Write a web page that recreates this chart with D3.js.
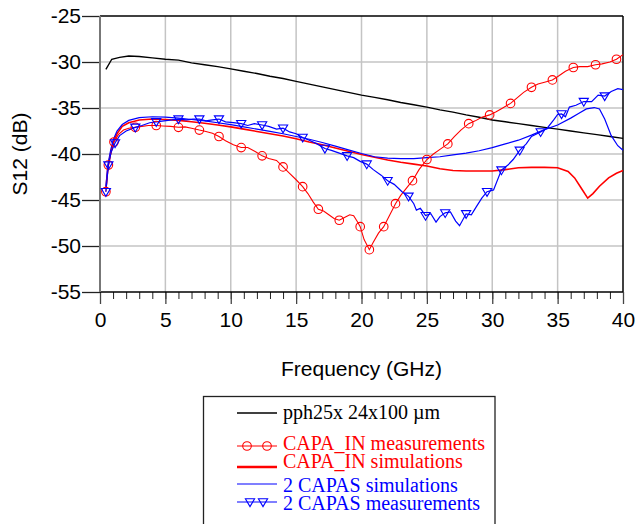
<!DOCTYPE html>
<html><head><meta charset="utf-8">
<script src="https://cdn.jsdelivr.net/npm/d3@7"></script>
<style>body{margin:0;background:#fff}svg{display:block}</style>
</head><body><svg id="c" width="635" height="524"></svg>
<script>
const xTicks = [0,5,10,15,20,25,30,35,40];
const yTicks = [-25,-30,-35,-40,-45,-50,-55];
const legendLabels = ["pph25x 24x100 \u00b5m","CAPA_IN measurements","CAPA_IN simulations","2 CAPAS simulations","2 CAPAS measurements"];

const blackSim = [[0.45,-30.8],[0.9,-29.7],[1.5,-29.5],[2.2,-29.35],[3,-29.4],[4,-29.55],[5,-29.7],[6,-29.8],[7,-30.1],[8,-30.3],[9,-30.5],[10,-30.75],[11,-31.0],[12,-31.25],[13,-31.55],[14,-31.8],[15,-32.1],[16,-32.4],[17,-32.7],[18,-33.0],[19,-33.3],[20,-33.6],[21,-33.85],[22,-34.1],[23,-34.4],[24,-34.65],[25,-34.9],[26,-35.2],[27,-35.45],[28,-35.75],[29,-36.0],[30,-36.3],[31,-36.5],[32,-36.7],[33,-36.9],[34,-37.1],[35,-37.3],[36,-37.5],[37,-37.7],[38,-37.9],[39,-38.1],[40,-38.3]];

const redSim = [[0.45,-43.8],[0.6,-41.5],[0.8,-40.0],[1.0,-38.8],[1.3,-37.8],[1.7,-37.0],[2.2,-36.6],[3,-36.3],[4,-36.2],[5,-36.25],[6,-36.35],[7,-36.5],[8,-36.65],[9,-36.85],[10,-37.05],[11,-37.3],[12,-37.55],[13,-37.8],[14,-38.05],[15,-38.35],[16,-38.7],[17,-39.0],[18,-39.35],[19,-39.7],[20,-40.05],[21,-40.35],[22,-40.65],[23,-40.9],[24,-41.1],[25,-41.3],[26,-41.6],[27,-41.8],[28,-41.85],[29,-41.85],[30,-41.85],[31,-41.7],[32,-41.5],[33,-41.45],[34,-41.45],[35,-41.5],[35.8,-41.9],[36.3,-42.6],[36.8,-43.7],[37.3,-44.8],[37.7,-44.3],[38.2,-43.5],[38.9,-42.6],[39.5,-42.1],[40,-41.8]];

const blueSim = [[0.45,-43.5],[0.6,-41.2],[0.8,-39.7],[1.0,-38.5],[1.3,-37.5],[1.7,-36.8],[2.2,-36.35],[3,-36.05],[4,-35.95],[5,-36.0],[6,-36.1],[7,-36.25],[8,-36.4],[9,-36.6],[10,-36.8],[11,-37.05],[12,-37.3],[13,-37.55],[14,-37.8],[15,-38.1],[16,-38.4],[17,-38.75],[18,-39.15],[19,-39.55],[20,-39.95],[21,-40.3],[22,-40.45],[23,-40.5],[24,-40.5],[25,-40.4],[26,-40.3],[27,-40.1],[28,-39.9],[29,-39.65],[30,-39.3],[31,-38.9],[32,-38.5],[33,-37.95],[34,-37.35],[35,-36.85],[36,-36.1],[36.6,-35.6],[37.2,-35.1],[37.8,-34.95],[38.2,-35.1],[38.6,-36.2],[39.1,-38.0],[39.6,-39.1],[40,-39.6]];

const redMeas = [[0.45,-44.1],[0.64,-41.2],[0.85,-39.8],[1.07,-38.7],[1.4,-37.9],[1.8,-37.4],[2.2,-37.2],[2.7,-37.1],[3.2,-37.0],[3.7,-36.9],[4.3,-36.9],[4.8,-36.95],[5.4,-37.0],[6.0,-37.1],[6.5,-37.05],[7.0,-37.2],[7.6,-37.4],[8.1,-37.55],[8.6,-37.75],[9.1,-38.1],[9.6,-38.55],[10.2,-39.0],[10.8,-39.3],[11.3,-39.3],[11.9,-39.75],[12.4,-40.2],[12.9,-40.5],[13.5,-40.7],[14.0,-41.4],[14.5,-42.1],[15.0,-42.8],[15.5,-43.55],[15.9,-44.3],[16.3,-45.2],[16.7,-46.0],[17.1,-46.2],[17.5,-46.6],[17.9,-47.0],[18.3,-47.2],[18.7,-46.9],[19.1,-46.6],[19.4,-46.7],[19.7,-47.4],[19.9,-47.9],[20.2,-49.3],[20.6,-50.4],[20.9,-49.6],[21.3,-48.6],[21.7,-47.9],[22.1,-46.8],[22.6,-45.4],[23.0,-44.5],[23.5,-43.6],[23.9,-42.9],[24.4,-41.7],[25.0,-40.6],[25.5,-40.0],[26.0,-39.5],[26.6,-38.9],[27.1,-38.1],[27.6,-37.4],[28.2,-36.7],[28.7,-36.4],[29.2,-36.0],[29.8,-35.75],[30.3,-35.4],[30.8,-35.0],[31.4,-34.5],[31.9,-33.9],[32.4,-33.3],[33.0,-32.75],[33.5,-32.4],[34.0,-32.2],[34.6,-31.95],[35.1,-31.5],[35.6,-31.0],[36.2,-30.6],[36.7,-30.5],[37.3,-30.5],[37.9,-30.3],[38.4,-30.2],[39.0,-30.0],[39.5,-29.7],[40.0,-29.2]];
const redMarkF = [0.45,0.64,1.07,2.7,4.3,6.0,7.6,9.1,10.8,12.4,14.0,15.5,16.7,18.3,19.9,20.6,21.7,22.6,23.9,25.0,26.6,28.2,29.8,31.4,33.0,34.6,36.2,37.9,39.5];

const blueMeas = [[0.45,-44.1],[0.64,-41.2],[0.85,-39.8],[1.15,-38.8],[1.5,-38.0],[2.0,-37.5],[2.7,-37.1],[3.2,-36.9],[3.8,-36.6],[4.3,-36.5],[4.9,-36.4],[5.5,-36.3],[6.0,-36.2],[6.6,-36.3],[7.1,-36.2],[7.6,-36.2],[8.1,-36.4],[8.6,-36.3],[9.1,-36.2],[9.6,-36.5],[10.2,-36.6],[10.8,-36.7],[11.3,-36.9],[11.8,-36.7],[12.4,-36.85],[12.9,-37.0],[13.5,-37.3],[14.0,-37.2],[14.5,-37.6],[15.0,-37.8],[15.5,-38.2],[16.0,-38.5],[16.6,-38.9],[17.2,-39.4],[17.7,-39.6],[18.3,-39.9],[18.9,-40.2],[19.4,-40.4],[19.9,-40.8],[20.4,-41.1],[20.9,-41.7],[21.5,-42.3],[22.0,-42.9],[22.5,-43.3],[23.1,-44.1],[23.6,-44.6],[24.0,-45.4],[24.2,-46.1],[24.5,-45.9],[24.9,-46.7],[25.3,-46.5],[25.7,-47.4],[26.0,-46.8],[26.4,-46.4],[26.8,-46.3],[27.2,-47.3],[27.5,-47.8],[28.0,-46.5],[28.4,-46.6],[28.8,-45.7],[29.2,-44.8],[29.6,-44.1],[30.1,-43.9],[30.7,-41.75],[31.2,-41.2],[31.6,-40.6],[32.1,-39.6],[32.6,-38.9],[33.0,-38.1],[33.7,-37.6],[34.2,-37.2],[34.7,-36.3],[35.0,-35.7],[35.3,-35.65],[35.6,-35.95],[35.9,-34.9],[36.4,-34.7],[37.0,-34.3],[37.6,-34.3],[38.1,-33.6],[38.6,-33.7],[39.1,-33.2],[39.6,-32.9],[40.0,-33.0]];
const blueMarkF = [0.45,0.64,1.15,2.7,4.3,6.0,7.6,9.1,10.8,12.4,14.0,15.5,17.2,18.9,20.4,22.0,23.6,24.9,26.4,28.0,29.6,30.7,32.1,33.7,35.3,37.0,38.6];

const svg = d3.select("#c");
const L = 100, R = 623, T = 16, B = 292;
const x = d3.scaleLinear().domain([0,40]).range([L,R]);
const y = d3.scaleLinear().domain([-55,-25]).range([B,T]);
const sans = "'Liberation Sans', Arial, sans-serif";
const serif = "'Liberation Serif', 'Times New Roman', serif";
const fmt = d => String(d);

// grid
const g = svg.append("g");
g.selectAll(".gx").data(xTicks.slice(1,-1)).join("line")
  .attr("x1",d=>x(d)).attr("x2",d=>x(d)).attr("y1",T).attr("y2",B)
  .attr("stroke","#c4c4c4").attr("stroke-width",1.5);
g.selectAll(".gy").data(yTicks.slice(1,-1)).join("line")
  .attr("x1",L).attr("x2",R).attr("y1",d=>y(d)).attr("y2",d=>y(d))
  .attr("stroke","#c4c4c4").attr("stroke-width",1.5);

// x axis with minor ticks
const xAxisMinor = d3.axisBottom(x).tickValues(d3.range(0,41,1)).tickSize(7).tickFormat("");
svg.append("g").attr("transform",`translate(0,${B})`).call(xAxisMinor)
  .call(a=>a.select(".domain").remove())
  .call(a=>a.selectAll("line").attr("stroke","#222").attr("stroke-width",1));
const xAxis = d3.axisBottom(x).tickValues(xTicks).tickSize(12).tickPadding(8).tickFormat(fmt);
svg.append("g").attr("transform",`translate(0,${B})`).call(xAxis)
  .call(a=>a.select(".domain").remove())
  .call(a=>a.selectAll("line").attr("stroke","#444").attr("stroke-width",1.3))
  .call(a=>a.selectAll("text").attr("font-family",sans).attr("font-size",21).attr("fill","#000").attr("dy","0.71em"));

const yAxis = d3.axisLeft(y).tickValues(yTicks).tickSize(18).tickPadding(1).tickFormat(fmt);
svg.append("g").attr("transform",`translate(${L},0)`).call(yAxis)
  .call(a=>a.select(".domain").remove())
  .call(a=>a.selectAll("line").attr("stroke","#222").attr("stroke-width",1.3))
  .call(a=>a.selectAll("text").attr("font-family",sans).attr("font-size",21).attr("fill","#000"));

// frame
svg.append("line").attr("x1",L).attr("x2",R).attr("y1",T).attr("y2",T).attr("stroke","#000").attr("stroke-width",1.3);
svg.append("line").attr("x1",R).attr("x2",R).attr("y1",T).attr("y2",B).attr("stroke","#000").attr("stroke-width",1.5);
svg.append("line").attr("x1",L).attr("x2",R).attr("y1",B).attr("y2",B).attr("stroke","#000").attr("stroke-width",1.5);
svg.append("line").attr("x1",L).attr("x2",L).attr("y1",T).attr("y2",B).attr("stroke","#777").attr("stroke-width",2);

// titles
svg.append("text").attr("x",(L+R)/2).attr("y",376).attr("text-anchor","middle")
  .attr("font-family",sans).attr("font-size",21).text("Frequency (GHz)");
svg.append("text").attr("transform",`translate(27,${(T+B)/2}) rotate(-90)`).attr("text-anchor","middle")
  .attr("font-family",sans).attr("font-size",21).text("S12 (dB)");

// lines
const line = d3.line().x(d=>x(d[0])).y(d=>y(d[1]));
const plot = svg.append("g");
plot.append("path").datum(blackSim).attr("d",line).attr("fill","none").attr("stroke","#000").attr("stroke-width",1.4);
plot.append("path").datum(redSim).attr("d",line).attr("fill","none").attr("stroke","#ff0000").attr("stroke-width",1.6);
plot.append("path").datum(blueSim).attr("d",line).attr("fill","none").attr("stroke","#0000ff").attr("stroke-width",1.2);
plot.append("path").datum(redMeas).attr("d",line).attr("fill","none").attr("stroke","#ff0000").attr("stroke-width",1.1);
plot.append("path").datum(blueMeas).attr("d",line).attr("fill","none").attr("stroke","#0000ff").attr("stroke-width",1.2);

const nearest = (arr,f)=>arr.reduce((a,b)=>Math.abs(b[0]-f)<Math.abs(a[0]-f)?b:a);
const tri = "M-4.6,-3.2L4.6,-3.2L0,4.6Z";
plot.selectAll(".rc").data(redMarkF.map(f=>nearest(redMeas,f))).join("circle")
  .attr("cx",d=>x(d[0])).attr("cy",d=>y(d[1])).attr("r",4.3)
  .attr("fill","none").attr("stroke","#ff0000").attr("stroke-width",1.1);
plot.selectAll(".bt").data(blueMarkF.map(f=>nearest(blueMeas,f))).join("path")
  .attr("transform",d=>`translate(${x(d[0])},${y(d[1])})`).attr("d",tri)
  .attr("fill","none").attr("stroke","#0000ff").attr("stroke-width",1.1);

// legend
const lg = svg.append("g");
lg.append("rect").attr("x",203.5).attr("y",396.5).attr("width",291.5).attr("height",140)
  .attr("fill","#fff").attr("stroke","#222").attr("stroke-width",1.3);
const rows = [
  {ly:413,ty:419,c:"#000",w:1.3,m:null},
  {ly:446,ty:450,c:"#ff0000",w:1.1,m:"circle"},
  {ly:467,ty:468,c:"#ff0000",w:2.4,m:null},
  {ly:484,ty:492,c:"#0000ff",w:1.2,m:null},
  {ly:502,ty:510,c:"#0000ff",w:1.2,m:"tri"}
];
rows.forEach((r,i)=>{
  lg.append("line").attr("x1",237).attr("x2",277).attr("y1",r.ly).attr("y2",r.ly)
    .attr("stroke",r.c).attr("stroke-width",r.w);
  if(r.m==="circle"){
    [247,267].forEach(cx=>lg.append("circle").attr("cx",cx).attr("cy",r.ly).attr("r",4.3)
      .attr("fill","none").attr("stroke",r.c).attr("stroke-width",1.1));
  }
  if(r.m==="tri"){
    [250,263].forEach(cx=>lg.append("path").attr("transform",`translate(${cx},${r.ly})`).attr("d",tri)
      .attr("fill","none").attr("stroke",r.c).attr("stroke-width",1.1));
  }
  lg.append("text").attr("x",283).attr("y",r.ty).attr("font-family",serif).attr("font-size",20)
    .attr("fill",r.c).text(legendLabels[i]);
});
</script></body></html>
